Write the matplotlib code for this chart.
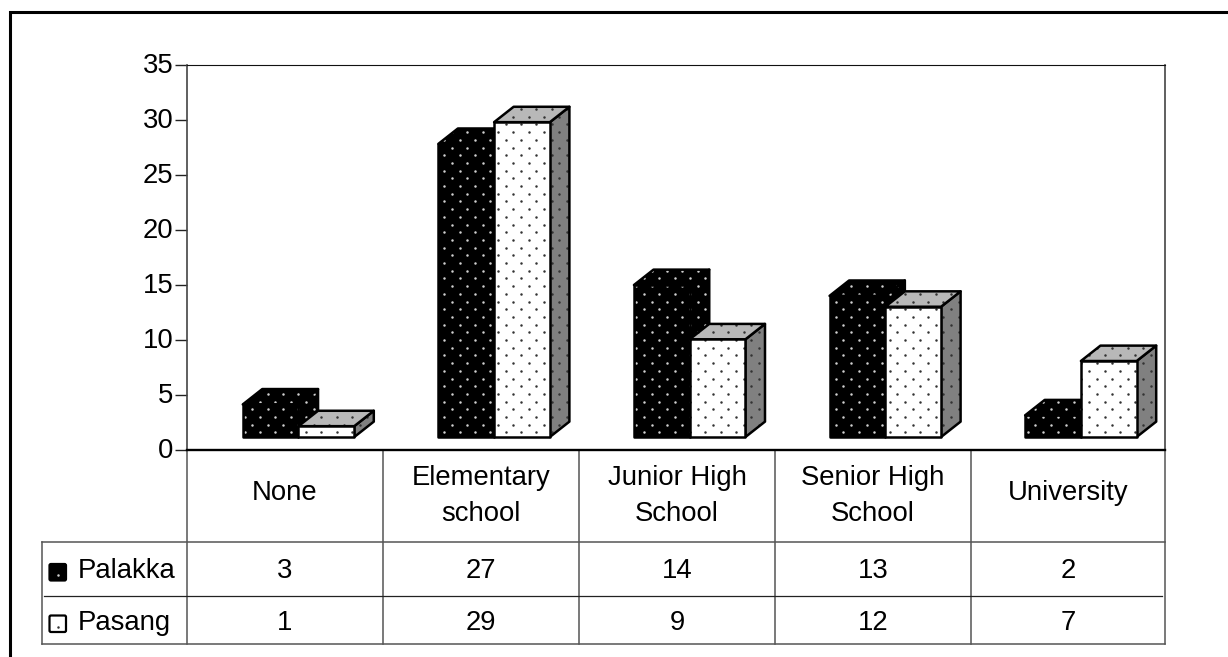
import numpy as np
import matplotlib
matplotlib.use("Agg")
import matplotlib.pyplot as plt
from matplotlib.patches import Polygon, FancyBboxPatch
from matplotlib.transforms import ScaledTranslation

plt.rcParams['font.family'] = ['Liberation Sans', 'DejaVu Sans']

categories = ["None", "Elementary\nschool", "Junior High\nSchool", "Senior High\nSchool", "University"]
series_names = ["Palakka", "Pasang"]
palakka = [3, 27, 14, 13, 2]
pasang = [1, 29, 9, 12, 7]
y_ticks = [0, 5, 10, 15, 20, 25, 30, 35]

W, H = 1228, 657
fig = plt.figure(figsize=(W / 100, H / 100), dpi=100, facecolor="white")


def axes_px(left, top, right, bottom, **kw):
    return fig.add_axes([left / W, 1 - bottom / H, (right - left) / W, (bottom - top) / H], **kw)


# Frame and data table share a pixel-scaled overlay
ov = axes_px(0, 0, W, H)
ov.set_xlim(0, W)
ov.set_ylim(H, 0)
ov.axis("off")

ax = axes_px(187, 65, 1165, 450, facecolor="none")
ax.set_xlim(0, 5)
ax.set_ylim(0, 35)
ax.set_xticks([])
ax.set_yticks(y_ticks)
ax.tick_params(axis="y", length=8.6, width=1.0, color="#222222", labelsize=19.8, pad=1)
label_shift = ScaledTranslation(0, 2 / 100, fig.dpi_scale_trans)
for lab in ax.get_yticklabels():
    lab.set_transform(lab.get_transform() + label_shift)
for name, sp in ax.spines.items():
    sp.set_linewidth(0.8 if name == "top" else 1.2)
    sp.set_color("#111111" if name == "top" else "#444444")
ax.spines["bottom"].set_linewidth(1.7)
ax.spines["bottom"].set_color("black")

# Oblique projection of the columns, in axis units
BASE = 1.18
DX, DY = 0.1, 1.4
BAR_W = 0.285
BAR_X0 = 0.285
SCALE = 0.987
DOT_DX, DOT_DY = 0.0785, 0.70


def stipple(patch, x0, x1, y0, y1, color):
    """Staggered dots inside the bounds, clipped to the given face."""
    xs, ys = [], []
    for i, y in enumerate(np.arange(0.9, 36, DOT_DY)):
        if y < y0 - 0.5 or y > y1 + 0.5:
            continue
        shift = DOT_DX / 2 if i % 2 else 0
        for x in np.arange(0.02 + shift, 5, DOT_DX):
            if x0 - 0.1 < x < x1 + 0.1:
                xs.append(x)
                ys.append(y)
    pts = ax.scatter(xs, ys, s=3.2, c=color, linewidths=0, zorder=patch.get_zorder())
    pts.set_clip_path(patch)


def face(verts, fc, dot, z):
    p = Polygon(verts, closed=True, facecolor=fc, edgecolor="none", zorder=z)
    ax.add_patch(p)
    vx, vy = zip(*verts)
    stipple(p, min(vx), max(vx), min(vy), max(vy), dot)
    outline = Polygon(verts, closed=True, fill=False, edgecolor="black", linewidth=1.8,
                      joinstyle="round", zorder=z + 0.001)
    ax.add_patch(outline)


def column(x, value, colors, dots, z):
    top = BASE + value * SCALE
    front = [(x, BASE), (x + BAR_W, BASE), (x + BAR_W, top), (x, top)]
    roof = [(x, top), (x + BAR_W, top), (x + BAR_W + DX, top + DY), (x + DX, top + DY)]
    side = [(x + BAR_W, BASE), (x + BAR_W + DX, BASE + DY), (x + BAR_W + DX, top + DY), (x + BAR_W, top)]
    face(side, colors[2], dots[2], z)
    face(roof, colors[1], dots[1], z + 0.01)
    face(front, colors[0], dots[0], z + 0.02)


DARK = (("black", "black", "black"), ("#d0d0d0", "#d0d0d0", "#d0d0d0"))
LIGHT = (("white", "#b8b8b8", "#808080"), ("#333333", "#333333", "#333333"))

for i, (a, b) in enumerate(zip(palakka, pasang)):
    column(i + BAR_X0, a, DARK[0], DARK[1], 3 + i)
    column(i + BAR_X0 + BAR_W, b, LIGHT[0], LIGHT[1], 3.5 + i)

# Outer border: left and top edges only
ov.plot([9.5, 9.5, 1228], [657, 11.5, 11.5], color="black", lw=2.2, solid_joinstyle="miter")

# Data table grid
GRID = "#555555"
col_x = [187, 383, 579, 775, 971, 1165]
for x in col_x:
    ov.plot([x, x], [450, 644], color=GRID, lw=1.1)
ov.plot([41.5, 1165], [542, 542], color=GRID, lw=1.1)
ov.plot([44, 1162], [596, 596], color="#222222", lw=0.9)
ov.plot([41.5, 1165], [644, 644], color=GRID, lw=1.1)
ov.plot([41.5, 41.5], [542, 644], color=GRID, lw=1.1)

FS = 19.8
centers = [(col_x[i] + col_x[i + 1]) / 2 for i in range(5)]
for cx, label in zip(centers, categories):
    two_lines = "\n" in label
    ov.text(cx, 496 if two_lines else 493, label, ha="center", va="center",
            fontsize=FS, linespacing=1.48)
for row_y, values in zip((571, 623), (palakka, pasang)):
    for cx, v in zip(centers, values):
        ov.text(cx, row_y, str(v), ha="center", va="center", fontsize=FS)

# Row keys
for name, row_y, fc, dot in zip(series_names, (572, 623.5), ("black", "white"), ("#d0d0d0", "#333333")):
    ov.add_patch(FancyBboxPatch((49.5, row_y - 8), 16.5, 16.5, boxstyle="round,pad=0,rounding_size=1.5",
                                facecolor=fc, edgecolor="black", lw=1.6))
    ov.scatter([58], [row_y + 3], s=3.2, c=dot, linewidths=0, zorder=5)
    ov.text(78, row_y - 0.5, name, ha="left", va="center", fontsize=FS)

fig.savefig("out.png", dpi=100)
